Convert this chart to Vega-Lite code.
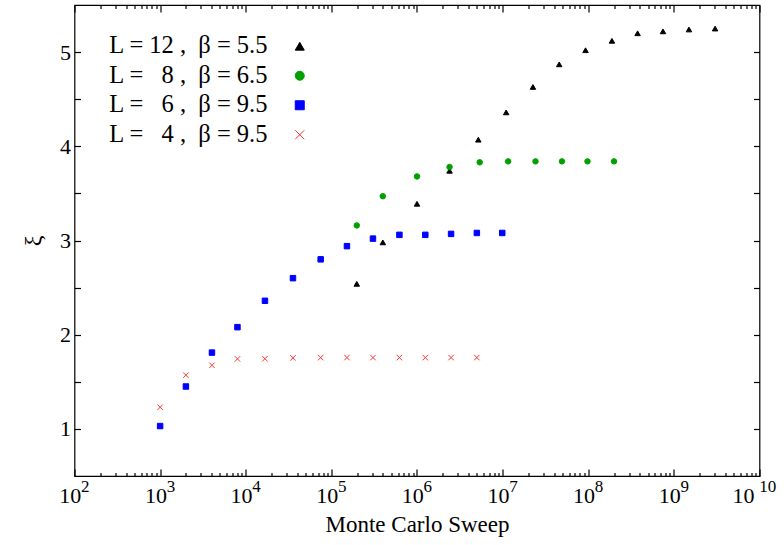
{
  "$schema": "https://vega.github.io/schema/vega-lite/v6.json",
  "width": 685,
  "height": 471,
  "autosize": {"type": "none"},
  "padding": {"left": 74.5, "top": 5, "right": 24.5, "bottom": 69},
  "config": {
    "view": {"stroke": "#000000", "strokeWidth": 1.2},
    "legend": {
      "orient": "none",
      "legendX": 15,
      "legendY": 29,
      "padding": 0,
      "labelFont": "Liberation Serif",
      "labelFontSize": 24.5,
      "labelColor": "#000000",
      "labelAlign": "right",
      "labelBaseline": "middle",
      "labelOffset": -44.5,
      "symbolOffset": 198,
      "labelLimit": 0,
      "rowPadding": 4.5,
      "symbolSize": 81,
      "symbolStrokeWidth": 1
    }
  },
  "datasets": {
    "pts": [
      {"series": "12", "sweeps": 198000, "xi": 2.54},
      {"series": "12", "sweeps": 399000, "xi": 2.98},
      {"series": "12", "sweeps": 1000000, "xi": 3.39},
      {"series": "12", "sweeps": 2400000, "xi": 3.74},
      {"series": "12", "sweeps": 5200000, "xi": 4.07},
      {"series": "12", "sweeps": 11000000, "xi": 4.36},
      {"series": "12", "sweeps": 22600000, "xi": 4.63},
      {"series": "12", "sweeps": 45800000, "xi": 4.87},
      {"series": "12", "sweeps": 93000000, "xi": 5.02},
      {"series": "12", "sweeps": 189000000, "xi": 5.12},
      {"series": "12", "sweeps": 377000000, "xi": 5.2},
      {"series": "12", "sweeps": 746000000, "xi": 5.22},
      {"series": "12", "sweeps": 1500000000, "xi": 5.24},
      {"series": "12", "sweeps": 3030000000, "xi": 5.25},
      {"series": "8", "sweeps": 198000, "xi": 3.16},
      {"series": "8", "sweeps": 399000, "xi": 3.47},
      {"series": "8", "sweeps": 1000000, "xi": 3.68},
      {"series": "8", "sweeps": 2400000, "xi": 3.78},
      {"series": "8", "sweeps": 5400000, "xi": 3.83},
      {"series": "8", "sweeps": 11600000, "xi": 3.84},
      {"series": "8", "sweeps": 24200000, "xi": 3.84},
      {"series": "8", "sweeps": 49300000, "xi": 3.84},
      {"series": "8", "sweeps": 98000000, "xi": 3.84},
      {"series": "8", "sweeps": 200000000, "xi": 3.84},
      {"series": "6", "sweeps": 1000, "xi": 1.03},
      {"series": "6", "sweeps": 2000, "xi": 1.45},
      {"series": "6", "sweeps": 4030, "xi": 1.81},
      {"series": "6", "sweeps": 8000, "xi": 2.08},
      {"series": "6", "sweeps": 16760, "xi": 2.36},
      {"series": "6", "sweeps": 35600, "xi": 2.6},
      {"series": "6", "sweeps": 75000, "xi": 2.8},
      {"series": "6", "sweeps": 152000, "xi": 2.94},
      {"series": "6", "sweeps": 306000, "xi": 3.02},
      {"series": "6", "sweeps": 623000, "xi": 3.06},
      {"series": "6", "sweeps": 1250000, "xi": 3.06},
      {"series": "6", "sweeps": 2500000, "xi": 3.07},
      {"series": "6", "sweeps": 5000000, "xi": 3.08},
      {"series": "6", "sweeps": 9900000, "xi": 3.08},
      {"series": "4", "sweeps": 1000, "xi": 1.23},
      {"series": "4", "sweeps": 2000, "xi": 1.57},
      {"series": "4", "sweeps": 4030, "xi": 1.675},
      {"series": "4", "sweeps": 8000, "xi": 1.743},
      {"series": "4", "sweeps": 16760, "xi": 1.745},
      {"series": "4", "sweeps": 35600, "xi": 1.754},
      {"series": "4", "sweeps": 75000, "xi": 1.757},
      {"series": "4", "sweeps": 152000, "xi": 1.757},
      {"series": "4", "sweeps": 306000, "xi": 1.757},
      {"series": "4", "sweeps": 623000, "xi": 1.757},
      {"series": "4", "sweeps": 1250000, "xi": 1.757},
      {"series": "4", "sweeps": 2500000, "xi": 1.757},
      {"series": "4", "sweeps": 5000000, "xi": 1.757}
    ]
  },
  "layer": [
    {
      "data": {"name": "pts"},
      "mark": {"type": "point", "filled": true, "strokeWidth": 1, "opacity": 1},
      "encoding": {
        "x": {
          "field": "sweeps",
          "type": "quantitative",
          "scale": {"type": "log", "domain": [100, 10000000000], "nice": false},
          "axis": {
            "orient": "bottom",
            "grid": false,
            "domain": false,
            "zindex": 1,
            "tickColor": "black",
            "tickWidth": 1.2,
            "offset": -7,
            "tickSize": 7,
            "values": [100, 1000, 10000, 100000, 1000000, 10000000, 100000000, 1000000000, 10000000000],
            "labelExpr": "'10'",
            "labelOffset": {"condition": {"test": "datum.value > 5000000000", "value": -16.5}, "value": -4.7},
            "labelFont": "Liberation Serif",
            "labelColor": "#000000",
            "labelFontSize": 22,
            "labelPadding": 9,
            "labelOverlap": false,
            "labelFlush": false,
            "title": "Monte Carlo Sweep",
            "titleFont": "Liberation Serif",
            "titleColor": "#000000",
            "titleFontWeight": "normal",
            "titleFontSize": 23,
            "titlePadding": 7
          }
        },
        "y": {
          "field": "xi",
          "type": "quantitative",
          "scale": {"domain": [0.5, 5.5], "nice": false, "zero": false},
          "axis": {
            "orient": "left",
            "grid": false,
            "domain": false,
            "zindex": 1,
            "tickColor": "black",
            "tickWidth": 1.2,
            "offset": -6,
            "tickSize": 6,
            "values": [1, 1.5, 2, 2.5, 3, 3.5, 4, 4.5, 5],
            "labelExpr": "datum.value % 1 === 0 ? format(datum.value, 'd') : ''",
            "labelFont": "Liberation Serif",
            "labelColor": "#000000",
            "labelFontSize": 22,
            "labelPadding": 4,
            "labelOverlap": false,
            "labelFlush": false,
            "title": "\u03be",
            "titleFont": "Liberation Serif",
            "titleColor": "#000000",
            "titleFontWeight": "normal",
            "titleFontSize": 24,
            "titlePadding": 14
          }
        },
        "color": {
          "field": "series",
          "type": "nominal",
          "scale": {"domain": ["12", "8", "6", "4"], "range": ["#000000", "#00a000", "#0000ff", "#ff3333"]},
          "legend": {
            "title": null,
            "labelExpr": "datum.value == '12' ? 'L = 12 ,\u00a0 \u03b2 = 5.5' : datum.value == '8' ? 'L = \u20078 ,\u00a0 \u03b2 = 6.5' : datum.value == '6' ? 'L = \u20076 ,\u00a0 \u03b2 = 9.5' : 'L = \u20074 ,\u00a0 \u03b2 = 9.5'"
          }
        },
        "stroke": {
          "field": "series",
          "type": "nominal",
          "scale": {"domain": ["12", "8", "6", "4"], "range": ["#000000", "#00a000", "#0000ff", "#ff3333"]},
          "legend": {
            "title": null,
            "labelExpr": "datum.value == '12' ? 'L = 12 ,\u00a0 \u03b2 = 5.5' : datum.value == '8' ? 'L = \u20078 ,\u00a0 \u03b2 = 6.5' : datum.value == '6' ? 'L = \u20076 ,\u00a0 \u03b2 = 9.5' : 'L = \u20074 ,\u00a0 \u03b2 = 9.5'"
          }
        },
        "shape": {
          "field": "series",
          "type": "nominal",
          "scale": {"domain": ["12", "8", "6", "4"], "range": ["triangle-up", "circle", "square", "M-1,-1L1,1M-1,1L1,-1"]},
          "legend": {
            "title": null,
            "labelExpr": "datum.value == '12' ? 'L = 12 ,\u00a0 \u03b2 = 5.5' : datum.value == '8' ? 'L = \u20078 ,\u00a0 \u03b2 = 6.5' : datum.value == '6' ? 'L = \u20076 ,\u00a0 \u03b2 = 9.5' : 'L = \u20074 ,\u00a0 \u03b2 = 9.5'"
          }
        }
      }
    },
    {
      "data": {"name": "pts"},
      "mark": {"type": "point", "opacity": 0},
      "encoding": {
        "x": {
          "field": "sweeps",
          "type": "quantitative",
          "axis": {
            "orient": "bottom",
            "grid": false,
            "domain": false,
            "zindex": 1,
            "tickColor": "black",
            "tickWidth": 1.2,
            "offset": -3.5,
            "tickSize": 3.5,
            "values": [200,300,400,500,600,700,800,900,2000,3000,4000,5000,6000,7000,8000,9000,20000,30000,40000,50000,60000,70000,80000,90000,200000,300000,400000,500000,600000,700000,800000,900000,2000000,3000000,4000000,5000000,6000000,7000000,8000000,9000000,20000000,30000000,40000000,50000000,60000000,70000000,80000000,90000000,200000000,300000000,400000000,500000000,600000000,700000000,800000000,900000000,2000000000,3000000000,4000000000,5000000000,6000000000,7000000000,8000000000,9000000000],
            "labels": false,
            "title": null
          }
        },
        "y": {
          "field": "xi",
          "type": "quantitative",
          "axis": {
            "orient": "right",
            "grid": true,
            "gridOpacity": 0,
            "domain": false,
            "zindex": 1,
            "tickColor": "black",
            "tickWidth": 1.2,
            "offset": -6,
            "tickSize": 6,
            "values": [1, 1.5, 2, 2.5, 3, 3.5, 4, 4.5, 5],
            "labels": false,
            "title": null
          }
        }
      }
    },
    {
      "data": {"name": "pts"},
      "mark": {"type": "point", "opacity": 0},
      "encoding": {
        "x": {
          "field": "sweeps",
          "type": "quantitative",
          "axis": {
            "orient": "top",
            "grid": false,
            "domain": true,
            "domainOpacity": 0,
            "zindex": 1,
            "tickColor": "black",
            "tickWidth": 1.2,
            "offset": -7,
            "tickSize": 7,
            "values": [100, 1000, 10000, 100000, 1000000, 10000000, 100000000, 1000000000, 10000000000],
            "labels": false,
            "title": null
          }
        },
        "y": {"field": "xi", "type": "quantitative", "axis": null}
      }
    },
    {
      "data": {"name": "pts"},
      "mark": {"type": "point", "opacity": 0},
      "encoding": {
        "x": {
          "field": "sweeps",
          "type": "quantitative",
          "axis": {
            "orient": "top",
            "grid": false,
            "domain": false,
            "zindex": 1,
            "tickColor": "black",
            "tickWidth": 1.2,
            "offset": -3.5,
            "tickSize": 3.5,
            "values": [200,300,400,500,600,700,800,900,2000,3000,4000,5000,6000,7000,8000,9000,20000,30000,40000,50000,60000,70000,80000,90000,200000,300000,400000,500000,600000,700000,800000,900000,2000000,3000000,4000000,5000000,6000000,7000000,8000000,9000000,20000000,30000000,40000000,50000000,60000000,70000000,80000000,90000000,200000000,300000000,400000000,500000000,600000000,700000000,800000000,900000000,2000000000,3000000000,4000000000,5000000000,6000000000,7000000000,8000000000,9000000000],
            "labels": false,
            "title": null
          }
        },
        "y": {"field": "xi", "type": "quantitative", "axis": null}
      }
    },
    {
      "data": {"name": "pts"},
      "mark": {"type": "point", "opacity": 0},
      "encoding": {
        "x": {
          "field": "sweeps",
          "type": "quantitative",
          "axis": {
            "orient": "bottom",
            "grid": false,
            "domain": false,
            "ticks": false,
            "values": [100, 1000, 10000, 100000, 1000000, 10000000, 100000000, 1000000000, 10000000000],
            "labelExpr": "format(round(log(datum.value)/LN10), 'd')",
            "labelOffset": {"condition": {"test": "datum.value > 5000000000", "value": 7.7}, "value": 10.3},
            "labelFont": "Liberation Serif",
            "labelColor": "#000000",
            "labelFontSize": 17,
            "labelPadding": 2,
            "labelOverlap": false,
            "labelFlush": false,
            "title": null
          }
        },
        "y": {"field": "xi", "type": "quantitative", "axis": null}
      }
    }
  ],
  "resolve": {"axis": {"x": "independent", "y": "independent"}}
}
